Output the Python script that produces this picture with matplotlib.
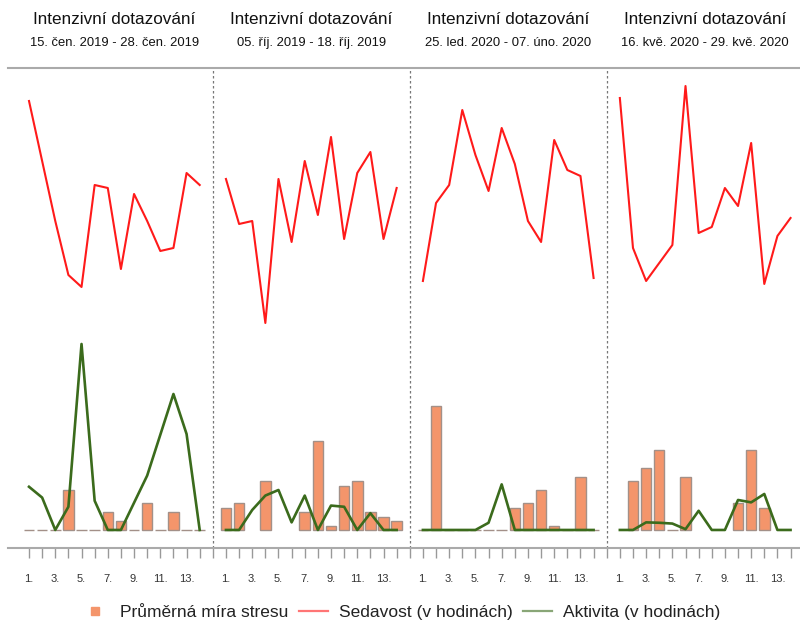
import numpy as np
import matplotlib
matplotlib.use("Agg")
import matplotlib.pyplot as plt
from matplotlib.lines import Line2D

plt.rcParams['font.family'] = ['Liberation Sans', 'DejaVu Sans']

# ---- data ----
titles = ["Intenzivní dotazování"] * 4
periods = ["15. čen. 2019 - 28. čen. 2019",
           "05. říj. 2019 - 18. říj. 2019",
           "25. led. 2020 - 07. úno. 2020",
           "16. kvě. 2020 - 29. kvě. 2020"]
days = list(range(1, 15))
day_labels = [f"{d}." for d in days]

nan = np.nan
stress_p1 = [0, 0, 0, 0.9, 0, 0, 0.4, 0.2, 0, 0.6, 0, 0.4, 0, 0]
stress_p2 = [0.5, 0.6, nan, 1.1, nan, nan, 0.4, 2.0, 0.1, 1.0, 1.1, 0.4, 0.3, 0.2]
stress_p3 = [0, 2.8, 0, 0, 0, 0, 0, 0.5, 0.6, 0.9, 0.1, 0, 1.2, 0]
stress_p4 = [nan, 1.1, 1.4, 1.8, 0, 1.2, nan, nan, nan, 0.6, 1.8, 0.5, nan, nan]

sedavost_p1 = [14.9, 12.9, 10.9, 9.1, 8.7, 12.1, 12.0, 9.3, 11.8, 10.9, 9.9, 10.0, 12.5, 12.1]
sedavost_p2 = [12.3, 10.8, 10.9, 7.5, 12.3, 10.2, 12.9, 11.1, 13.7, 10.3, 12.5, 13.2, 10.3, 12.0]
sedavost_p3 = [8.9, 11.5, 12.1, 14.6, 13.1, 11.9, 14.0, 12.8, 10.9, 10.2, 13.6, 12.6, 12.4, 9.0]
sedavost_p4 = [15.0, 10.0, 8.9, 9.5, 10.1, 15.4, 10.5, 10.7, 12.0, 11.4, 13.5, 8.8, 10.4, 11.0]

aktivita_p1 = [1.08, 0.81, 0.0, 0.58, 4.65, 0.73, 0.0, 0.0, 0.68, 1.36, 2.38, 3.4, 2.4, 0.0]
aktivita_p2 = [0.0, 0.0, 0.5, 0.86, 1.0, 0.19, 0.86, 0.0, 0.61, 0.58, 0.0, 0.42, 0.0, 0.0]
aktivita_p3 = [0.0, 0.0, 0.0, 0.0, 0.0, 0.18, 1.14, 0.0, 0.0, 0.0, 0.0, 0.0, 0.0, 0.0]
aktivita_p4 = [0.0, 0.0, 0.19, 0.18, 0.16, 0.02, 0.48, 0.0, 0.0, 0.75, 0.69, 0.9, 0.0, 0.0]

stress = [stress_p1, stress_p2, stress_p3, stress_p4]
sedavost = [sedavost_p1, sedavost_p2, sedavost_p3, sedavost_p4]
aktivita = [aktivita_p1, aktivita_p2, aktivita_p3, aktivita_p4]

legend_labels = ["Průměrná míra stresu", "Sedavost (v hodinách)", "Aktivita (v hodinách)"]

# ---- style ----
c_bar = '#f4956b'
c_bar_edge = '#a39088'
c_red = '#ff1a1a'
c_green = '#3b6b1c'
c_grid = '#aaaaaa'

fig = plt.figure(figsize=(8, 6.21), dpi=100)
ax = fig.add_axes([0.01, 0.1176, 0.99, 0.7729])
ax_r = ax.twinx()
ax_g = ax.twinx()

span = 15
for p in range(4):
    xs = np.array(days) + p * span
    ax.bar(xs, stress[p], width=0.8, color=c_bar, edgecolor=c_bar_edge, linewidth=1.0, zorder=2)
    ax_r.plot(xs, sedavost[p], color=c_red, lw=1.5)
    ax_g.plot(xs, aktivita[p], color=c_green, lw=1.9, zorder=3)

for b in (15, 30, 45):
    ax.axvline(b, color='#777777', lw=0.9, ls=(0, (2, 2)), zorder=0)

x0, x1 = -0.6, 59.72
for a in (ax, ax_r, ax_g):
    a.set_xlim(x0, x1)
    for s in ('left', 'right'):
        a.spines[s].set_visible(False)
    a.tick_params(axis='y', left=False, right=False, labelleft=False, labelright=False)

ax.set_ylim(-0.406, 10.43)
ax_r.set_ylim(0, 16)
ax_g.set_ylim(-0.45, 11.55)

for a in (ax_r, ax_g):
    a.spines['top'].set_visible(False)
    a.spines['bottom'].set_visible(False)
    a.patch.set_visible(False)

ax.spines['top'].set_color(c_grid)
ax.spines['top'].set_linewidth(1.5)
ax.spines['bottom'].set_color(c_grid)
ax.spines['bottom'].set_linewidth(1.5)

ticks = []
labels = []
for p in range(4):
    for d in days:
        ticks.append(d + p * span)
        labels.append(day_labels[d - 1] if d % 2 == 1 else "")
    if p < 3:
        ticks.append((p + 1) * span)
        labels.append("")
ax.set_xticks(ticks)
ax.set_xticklabels(labels, fontsize=8, color='#333333')
ax.tick_params(axis='x', direction='out', length=7.5, width=1.0, color='#999999', pad=11)

# panel titles in figure coordinates
def xfig(xv):
    disp = ax.transData.transform((xv, 0))
    return fig.transFigure.inverted().transform(disp)[0]

for p in range(4):
    cx = xfig(p * span + 7.5)
    fig.text(cx, 1 - 20 / 621, titles[p], ha='center', va='center', fontsize=12.3, color='#111111')
    fig.text(cx, 1 - 43 / 621, periods[p], ha='center', va='center', fontsize=9.4, color='#111111')

handles = [Line2D([], [], marker='s', ls='none', color=c_bar, markersize=6),
           Line2D([], [], color=c_red, lw=1.6, alpha=0.6),
           Line2D([], [], color=c_green, lw=1.6, alpha=0.6)]
fig.legend(handles, legend_labels, loc='center', bbox_to_anchor=(0.5, 1 - 612 / 621), ncol=3,
           frameon=False, fontsize=12.5, handlelength=1.7, handletextpad=0.6, columnspacing=0.6,
           labelcolor='#222222')

fig.savefig('out.png', dpi=100)
